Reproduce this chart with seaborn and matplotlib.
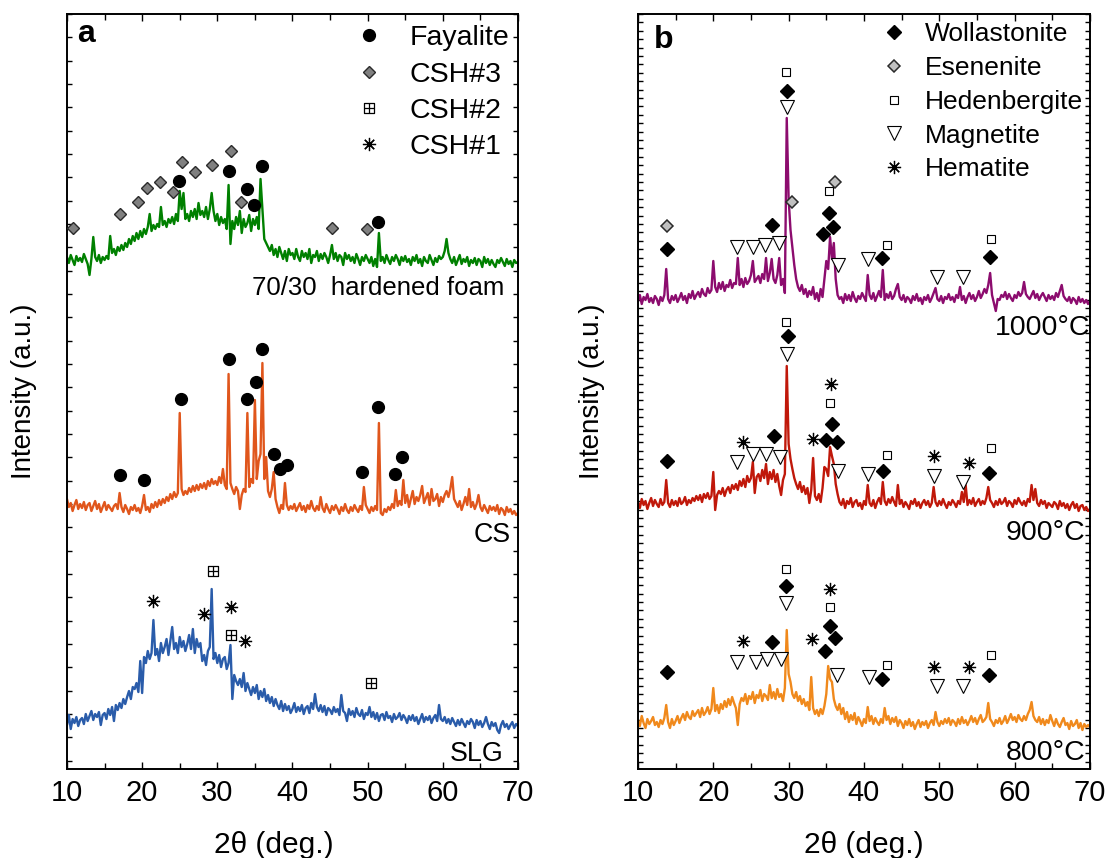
import numpy as np
import pandas as pd
import seaborn as sns
import matplotlib.pyplot as plt
from matplotlib.lines import Line2D
from matplotlib.path import Path
from matplotlib.ticker import MultipleLocator, FixedLocator

# scan grid, 0.25 deg steps
two_theta = np.arange(10, 70.001, 0.25)

# panel a: counts above each trace's own baseline (one row per degree)
foam_counts = [
    12, 6, 14, 9,  4, 13, 8, 11,  7, 15, 10, 5,  -6, 10, 32, 12,  8, 14, 6, 12,
    9, 13, 10, 33,  16, 20, 14, 22,  18, 24, 19, 26,  22, 30, 25, 33,  28, 36, 30, 38,
    32, 40, 35, 42,  55, 38, 44, 40,  45, 42, 62, 44,  48, 42, 50, 46,  52, 45, 55, 48,
    78, 60, 76, 50,  55, 48, 58, 52,  60, 50, 66, 54,  58, 52, 62, 50,  60, 76, 58, 48,
    55, 44, 52, 46,  50, 40, 84, 25,  48, 40, 52, 44,  58, 36, 50, 42,  46, 54, 38, 50,
    44, 52, 40, 90,  60, 30, 26, 22,  18, 24, 14, 20,  12, 22, 16, 10,  18, 8, 20, 14,
    16, 10, 20, 12,  8, 18, 12, 16,  10, 20, 6, 14,  12, 18, 8, 15,  10, 16, 12, 6,
    14, 24, 10, 16,  8, 14, 12, 4,  16, 10, 14, 8,  12, 6, 15, 10,  4, 12, 8, 14,
    10, 6, 12, 3,  10, 2, 36, 8,  12, 6, 14, 9,  5, 12, 8, 14,  10, 4, 12, 8,
    13, 7, 10, 4,  12, 8, 14, 6,  10, 3, 12, 8,  6, 14, 9, 4,  11, 7, 13, 10,
    12, 18, 30, 16,  10, 6, 12, 4,  9, 14, 5, 10,  7, 12, 3, 9,  6, 11, 4, 10,
    8, 2, 12, 6,  10, 4, 9, 5,  2, 9, 6, 11,  7, 3, 10, 5,  8, 2, 9, 6,  7]
cs_counts = [
    20, 12, 16, 8,  14, 19, 10, 15,  11, 17, 9, 14,  16, 8, 13, 18,  10, 15, 7, 12,
    17, 9, 14, 11,  8, 13, 15, 10,  26, 12, 7, 14,  10, 5, 12, 9,  14, 8, 11, 6,
    13, 24, 9, 12,  7, 15, 11, 17,  12, 19, 14, 20,  16, 22, 18, 25,  20, 27, 22, 26,
    106, 30, 24, 28,  25, 31, 27, 33,  28, 34, 29, 35,  31, 36, 30, 38,  33, 40, 35, 38,
    34, 42, 36, 50,  34, 30, 145, 36,  30, 25, 32, 28,  10, 24, 30, 27,  106, 32, 40, 36,
    119, 40, 58, 65,  156, 40, 62, 28,  22, 30, 47, 20,  12, 6, 14, 10,  36, 14, 9, 13,
    10, 15, 8, 12,  16, 9, 13, 7,  14, 10, 18, 11,  8, 13, 9, 22,  11, 7, 15, 10,
    6, 13, 9, 14,  10, 5, 12, 8,  15, 9, 6, 12,  8, 14, 10, 7,  13, 9, 32, 14,
    10, 6, 12, 8,  13, 9, 96, 6,  4, 10, 7, 12,  9, 15, 11, 29,  13, 18, 14, 39,
    16, 24, 12, 20,  28, 15, 22, 18,  24, 33, 16, 21,  26, 14, 30, 18,  20, 25, 13, 22,
    17, 24, 28, 22,  30, 42, 20, 16,  12, 18, 9, 15,  22, 14, 30, 12,  17, 10, 15, 24,
    12, 8, 14, 10,  6, 13, 9, 12,  8, 14, 5, 11,  9, 4, 12, 7,  10, 5, 8, 4,  6]
slg_counts = [
    14, 24, 10, 20,  16, 22, 13, 19,  21, 15, 25, 18,  23, 28, 19, 25,  22, 27, 14, 24,
    26, 20, 30, 24,  32, 18, 34, 29,  36, 31, 40, 35,  42, 48, 40, 52,  50, 56, 47, 78,
    46, 82, 76, 88,  80, 86, 119, 84,  90, 78, 96, 86,  92, 100, 84, 98,  112, 90, 96, 86,
    102, 92, 98, 88,  95, 104, 90, 110,  86, 100, 92, 96,  78, 84, 74, 88,  92, 150, 80, 86,
    76, 84, 72, 80,  82, 70, 76, 94,  40, 64, 58, 54,  60, 52, 66, 48,  56, 50, 44, 52,
    46, 54, 40, 48,  42, 50, 38, 44,  36, 42, 33, 40,  34, 30, 38, 28,  35, 29, 33, 26,
    30, 36, 27, 32,  28, 34, 25, 31,  33, 26, 36, 30,  45, 32, 28, 34,  27, 33, 24, 31,
    29, 25, 32, 27,  30, 24, 44, 28,  26, 18, 30, 24,  28, 22, 31, 25,  23, 29, 20, 26,
    24, 32, 22, 27,  20, 26, 18, 24,  25, 19, 27, 21,  23, 17, 25, 20,  22, 26, 19, 24,
    21, 16, 23, 19,  24, 18, 22, 15,  20, 25, 17, 22,  19, 23, 16, 21,  24, 18, 34, 20,
    18, 22, 16, 20,  15, 21, 17, 13,  19, 14, 20, 16,  12, 18, 15, 20,  17, 11, 19, 14,
    18, 12, 16, 22,  15, 10, 17, 13,  16, 9, 6, 14,  18, 12, 15, 10,  14, 17, 11, 15,  13]

# panel b
t1000_counts = [
    8, 14, 5, 12,  9, 15, 7, 11,  6, 13, 10, 4,  12, 8, 14, 40,  10, 6, 13, 9,
    14, 7, 11, 16,  9, 13, 6, 15,  11, 18, 10, 14,  17, 12, 20, 15,  13, 21, 16, 19,
    48, 22, 17, 26,  20, 27, 18, 24,  22, 29, 21, 26,  25, 51, 24, 30,  22, 31, 25, 28,
    34, 48, 27, 30,  33, 26, 35, 30,  51, 28, 36, 50,  30, 26, 34, 51,  24, 30, 16, 191,
    110, 79, 62, 44,  30, 22, 18, 24,  15, 20, 12, 18,  14, 22, 10, 16,  8, 20, 12, 30,
    48, 40, 72, 50,  66, 30, 14, 10,  12, 6, 15, 9,  14, 8, 17, 11,  7, 13, 10, 16,
    12, 8, 34, 14,  10, 16, 8, 13,  18, 12, 39, 9,  15, 11, 17, 10,  13, 20, 25, 12,
    9, 14, 7, 12,  10, 6, 13, 9,  15, 8, 11, 5,  12, 9, 14, 7,  11, 16, 21, 10,
    8, 13, 6, 12,  10, 15, 9, 12,  7, 14, 11, 22,  9, 13, 6, 12,  16, 10, 14, 8,
    12, 18, 11, 15,  20, 16, 24, 36,  14, 6, -2, 10,  9, 14, 12, 17,  10, 15, 11, 8,
    14, 11, 17, 13,  16, 27, 15, 12,  10, 14, 18, 11,  15, 9, 13, 16,  12, 8, 14, 10,
    13, 9, 16, 12,  18, 24, 13, 10,  8, 12, 6, 11,  9, 5, 12, 7,  10, 6, 9, 5,  8]
t900_counts = [
    12, 6, 15, 9,  13, 5, 11, 16,  8, 14, 10, 7,  15, 9, 12, 34,  11, 7, 14, 9,
    13, 8, 16, 10,  12, 17, 9, 14,  11, 16, 13, 18,  14, 19, 12, 20,  16, 21, 15, 18,
    42, 4, 19, 23,  20, 26, 18, 24,  27, 21, 29, 25,  30, 24, 33, 28,  35, 27, 38, 32,
    36, 52, 21, 37,  40, 33, 44, 36,  50, 30, 42, 35,  44, 32, 40, 28,  19, 34, 40, 148,
    70, 55, 45, 36,  30, 25, 32, 22,  28, 20, 26, 11,  24, 56, 18, 14,  20, 12, 26, 47,
    45, 38, 67, 58,  50, 30, 20, 12,  9, 15, 6, 13,  10, 16, 7, 12,  14, 8, 11, 5,
    13, 9, 29, 11,  8, 14, 6, 12,  16, 10, 32, 13,  9, 15, 11, 17,  12, 8, 29, 10,
    14, 7, 12, 9,  5, 13, 10, 15,  8, 12, 6, 11,  14, 9, 13, 7,  11, 27, 12, 8,
    13, 9, 15, 10,  6, 12, 9, 14,  11, 7, 13, 10,  22, 12, 29, 9,  14, 10, 16, 8,
    12, 15, 9, 13,  10, 16, 27, 14,  11, 7, 13, 9,  15, 10, 12, 16,  8, 13, 11, 7,
    14, 10, 16, 12,  9, 13, 8, 15,  12, 29, 14, 25,  11, 8, 14, 10,  13, 6, 11, 9,
    7, 12, 10, 5,  13, 8, 11, 6,  10, 4, 9, 12,  6, 10, 3, 8,  9, 4, 7, 3,  5]
t800_counts = [
    14, 8, 18, 11,  6, 15, 10, 13,  17, 9, 12, 7,  14, 10, 16, 29,  12, 6, 15, 9,
    13, 18, 11, 16,  20, 14, 22, 17,  15, 23, 18, 21,  24, 17, 26, 19,  22, 27, 20, 25,
    46, 23, 29, 21,  30, 25, 33, 27,  35, 29, 37, 31,  26, 9, 30, 36,  33, 40, 30, 38,
    35, 42, 31, 39,  36, 44, 33, 40,  38, 34, 49, 36,  42, 35, 45, 37,  40, 33, 46, 104,
    60, 52, 40, 36,  42, 33, 38, 30,  35, 28, 32, 24,  57, 26, 20, 24,  18, 25, 20, 28,
    40, 68, 55, 52,  35, 28, 24, 30,  20, 26, 15, 22,  12, 19, 14, 21,  10, 17, 13, 8,
    15, 11, 27, 13,  18, 10, 16, 12,  9, 15, 11, 26,  14, 18, 10, 16,  12, 17, 8, 14,
    11, 6, 13, 9,  15, 8, 12, 5,  10, 14, 7, 12,  9, 13, 6, 11,  14, 9, 22, 12,
    8, 13, 10, 15,  11, 16, 9, 14,  12, 8, 15, 10,  17, 11, 14, 9,  13, 18, 12, 16,
    10, 15, 19, 12,  14, 17, 31, 15,  12, 8, 14, 11,  16, 10, 13, 18,  11, 15, 20, 14,
    17, 12, 19, 15,  13, 18, 14, 20,  24, 32, 18, 14,  12, 17, 10, 15,  9, 14, 11, 19,
    13, 8, 15, 10,  7, 12, 16, 9,  11, 5, 13, 8,  10, 14, 6, 11,  4, 10, 7, 9,  7]

samples_a = ['70/30  hardened foam', 'CS', 'SLG']
offsets_a = [500, 250, 30]
colors_a = ['#008000', '#E0561C', '#2A5CAA']
samples_b = ['1000°C', '900°C', '800°C']
offsets_b = [460, 255, 35]
colors_b = ['#8C0C6E', '#C0180A', '#F0891C']

# phase markers, panel a (2theta, height)
fayalite_x = [24.9, 31.6, 34.0, 34.9, 35.9, 51.4,
              17.1, 20.3, 25.2, 31.6, 34.0, 35.1, 35.9, 37.6, 38.4, 39.3, 49.3, 51.4, 53.7, 54.6]
fayalite_y = [588, 598, 580, 564, 603, 547,
              294, 289, 370, 410, 370, 387, 420, 315, 300, 304, 297, 362, 295, 312]
csh3_x = [10.8, 17.0, 19.4, 20.7, 22.4, 24.1, 25.3, 27.0, 29.3, 31.8, 33.2, 45.2, 49.9]
csh3_y = [541, 555, 567, 581, 587, 577, 607, 597, 604, 618, 567, 541, 540]
csh2_x = [29.4, 31.8, 50.5]
csh2_y = [198, 134, 86]
csh1_x = [21.5, 28.2, 31.8, 33.7]
csh1_y = [168, 155, 162, 128]

# phase markers, panel b
wollastonite_x = [13.9, 27.8, 29.8, 34.5, 35.3, 35.9, 42.4, 56.7,
                  13.9, 28.1, 29.9, 34.9, 35.7, 36.4, 42.5, 56.6,
                  13.8, 27.8, 29.7, 34.8, 35.5, 36.1, 42.4, 56.6]
wollastonite_y = [520, 544, 678, 535, 556, 542, 511, 512,
                  308, 333, 433, 329, 345, 327, 298, 296,
                  97, 127, 183, 118, 143, 131, 90, 94]
esenenite_x = [13.8, 30.5, 36.1]
esenenite_y = [543, 567, 587]
hedenbergite_x = [29.7, 35.3, 43.0, 56.8, 29.7, 35.5, 43.0, 56.8, 29.7, 35.5, 43.0, 56.8]
hedenbergite_y = [697, 578, 524, 530, 447, 366, 314, 321, 200, 162, 104, 114]
magnetite_x = [29.8, 23.2, 25.3, 26.9, 28.7, 36.6, 40.6, 49.7, 53.2,
               29.8, 23.1, 25.3, 27.0, 28.9, 36.6, 40.6, 49.3, 53.2,
               29.7, 23.1, 25.7, 27.1, 29.0, 36.4, 40.7, 49.7, 53.2]
magnetite_y = [662, 522, 522, 524, 526, 504, 510, 492, 492,
               415, 307, 315, 315, 312, 298, 295, 293, 287,
               166, 107, 107, 110, 110, 94, 92, 83, 83]
hematite_x = [23.9, 33.2, 35.6, 49.3, 53.9, 24.0, 33.1, 35.5, 49.3, 53.9]
hematite_y = [327, 330, 385, 313, 306, 128, 130, 180, 102, 102]

sns.set_theme(style='ticks')
plt.rcParams['font.family'] = ['Liberation Sans', 'DejaVu Sans']
plt.rcParams.update({'text.color': 'black', 'axes.labelcolor': 'black',
                     'xtick.color': 'black', 'ytick.color': 'black'})

# square with a cross inside, for CSH#2
boxplus = Path([(-1, -1), (1, -1), (1, 1), (-1, 1), (-1, -1), (0, -1), (0, 1), (-1, 0), (1, 0)],
               [Path.MOVETO, Path.LINETO, Path.LINETO, Path.LINETO, Path.CLOSEPOLY,
                Path.MOVETO, Path.LINETO, Path.MOVETO, Path.LINETO])
star8 = (8, 2, 0)

styles = {
    'Fayalite': dict(marker='o', ms=8.5, mfc='black', mec='black'),
    'CSH#3': dict(marker='D', ms=6.5, mfc='#808080', mec='#2a2a2a', mew=1.0),
    'CSH#2': dict(marker=boxplus, ms=7, mfc='none', mec='black', mew=0.9),
    'CSH#1': dict(marker=star8, ms=9.5, mec='black', mew=0.9),
    'Wollastonite': dict(marker='D', ms=7, mfc='black', mec='black'),
    'Esenenite': dict(marker='D', ms=6.5, mfc='#c0c0c0', mec='#2a2a2a', mew=1.1),
    'Hedenbergite': dict(marker='s', ms=6, mfc='white', mec='black', mew=0.8),
    'Magnetite': dict(marker='v', ms=9.5, mfc='white', mec='black', mew=0.8),
    'Hematite': dict(marker=star8, ms=9.5, mec='black', mew=0.9),
}


def draw_trace(ax, counts, offset, color):
    df = pd.DataFrame({'two_theta': two_theta, 'intensity': np.array(counts) + offset})
    sns.lineplot(data=df, x='two_theta', y='intensity', color=color, lw=1.7,
                 estimator=None, sort=False, ax=ax)


def draw_marks(ax, name, xs, ys):
    ax.plot(xs, ys, ls='none', zorder=5, **styles[name])


def style_axes(ax, ytick_step, xlabel_x, ylabel_x):
    ax.set_xlim(10, 70)
    ax.set_ylim(0, 755)
    ax.xaxis.set_major_locator(MultipleLocator(10))
    ax.xaxis.set_minor_locator(MultipleLocator(5))
    ax.yaxis.set_major_locator(FixedLocator(np.arange(755, 0, -ytick_step)))
    ax.yaxis.set_minor_locator(FixedLocator([]))
    ax.tick_params(axis='both', which='both', direction='in', top=True, right=True,
                   width=1.0, color='black')
    ax.tick_params(axis='x', which='major', length=5, labelsize=21, pad=7)
    ax.tick_params(axis='x', which='minor', length=4.5)
    ax.tick_params(axis='y', which='major', length=3.5, labelleft=False)
    for s in ax.spines.values():
        s.set_linewidth(1.4)
        s.set_color('black')
    ax.set_xlabel('2θ (deg.)', fontsize=21.5)
    ax.set_ylabel('Intensity (a.u.)', fontsize=20)
    ax.xaxis.set_label_coords(xlabel_x, -0.082)
    ax.yaxis.set_label_coords(ylabel_x, 0.5)


def legend_for(ax, names, anchor, size, pad, spacing):
    handles = [Line2D([], [], ls='none', **styles[n]) for n in names]
    ax.legend(handles, names, loc='upper left', bbox_to_anchor=anchor, frameon=False,
              fontsize=size, handlelength=1.0, handletextpad=pad, labelspacing=spacing,
              borderpad=0, borderaxespad=0)


fig = plt.figure(figsize=(11.07, 8.58), dpi=100)
ax_a = fig.add_axes([0.0605, 0.1037, 0.4074, 0.880])
ax_b = fig.add_axes([0.5763, 0.1037, 0.4083, 0.880])

for counts, offset, color in zip([foam_counts, cs_counts, slg_counts], offsets_a, colors_a):
    draw_trace(ax_a, counts, offset, color)
for counts, offset, color in zip([t1000_counts, t900_counts, t800_counts], offsets_b, colors_b):
    draw_trace(ax_b, counts, offset, color)

draw_marks(ax_a, 'Fayalite', fayalite_x, fayalite_y)
draw_marks(ax_a, 'CSH#3', csh3_x, csh3_y)
draw_marks(ax_a, 'CSH#2', csh2_x, csh2_y)
draw_marks(ax_a, 'CSH#1', csh1_x, csh1_y)

draw_marks(ax_b, 'Wollastonite', wollastonite_x, wollastonite_y)
draw_marks(ax_b, 'Esenenite', esenenite_x, esenenite_y)
draw_marks(ax_b, 'Hedenbergite', hedenbergite_x, hedenbergite_y)
draw_marks(ax_b, 'Magnetite', magnetite_x, magnetite_y)
draw_marks(ax_b, 'Hematite', hematite_x, hematite_y)

style_axes(ax_a, 23.33, 0.459, -0.066)
style_axes(ax_b, 8.4, 0.5, -0.073)

# sample names under each trace
for name, x, y, size in zip(samples_a, [68.2, 69.0, 68.1], [481, 234, 15], [18.5, 19.3, 19.3]):
    ax_a.text(x, y, name, ha='right', va='center', fontsize=size)
for name, x, y in zip(samples_b, [70.0, 69.4, 69.4], [441, 236, 16]):
    ax_b.text(x, y, name, ha='right', va='center', fontsize=20.5)

ax_a.text(0.023, 0.993, 'a', transform=ax_a.transAxes, fontsize=23, fontweight='bold', va='top')
ax_b.text(0.035, 0.986, 'b', transform=ax_b.transAxes, fontsize=23, fontweight='bold', va='top')

legend_for(ax_a, ['Fayalite', 'CSH#3', 'CSH#2', 'CSH#1'], (0.639, 0.985), 20.5, 0.9, 0.36)
legend_for(ax_b, ['Wollastonite', 'Esenenite', 'Hedenbergite', 'Magnetite', 'Hematite'],
           (0.538, 0.989), 19, 0.65, 0.37)

fig.savefig('out.png', dpi=100)
plt.close(fig)
